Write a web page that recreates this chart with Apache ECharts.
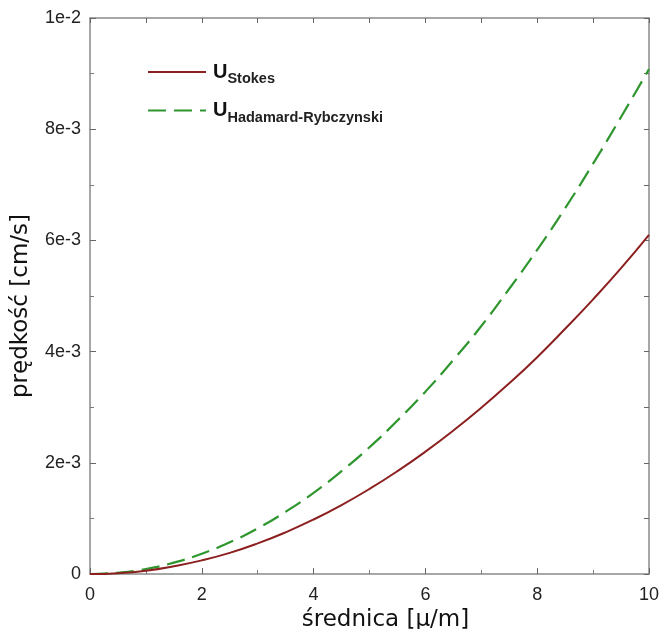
<!DOCTYPE html>
<html>
<head>
<meta charset="utf-8">
<script src="https://cdn.jsdelivr.net/npm/echarts@6/dist/echarts.min.js"></script>
<style>
    html, body { margin: 0; padding: 0; background: #fff; }
    #main { width: 661px; height: 629px; }
</style>
</head>
<body>
<div id="main"></div>
<script type="text/javascript">
    // średnica [µm]
    const diameters = [0, 0.5, 1, 1.5, 2, 2.5, 3, 3.5, 4, 4.5, 5, 5.5, 6, 6.5, 7, 7.5, 8, 8.5, 9, 9.5, 10];
    // prędkość [cm/s]
    const uStokes = [0, 0.000015, 0.00006, 0.00014, 0.000245, 0.00038, 0.00055, 0.00075, 0.00098, 0.00124,
        0.00153, 0.00185, 0.0022, 0.00258, 0.00299, 0.00343, 0.0039, 0.00441, 0.00494, 0.0055, 0.0061];
    const uHadamard = [0, 0.000023, 0.00009, 0.000205, 0.000365, 0.00057, 0.00082, 0.00112, 0.00146, 0.00185,
        0.00228, 0.00276, 0.00328, 0.00385, 0.00446, 0.00513, 0.00583, 0.00658, 0.00738, 0.00822, 0.00908];
    const yTickLabels = ['0', '2e-3', '4e-3', '6e-3', '8e-3', '1e-2'];
    const xTickLabels = ['0', '2', '4', '6', '8', '10'];

    const axisGray = '#8a8a8a';

    function pairs(ys) {
        let out = [];
        for (let i = 0; i < diameters.length; i++) {
            out.push([diameters[i], ys[i]]);
        }
        return out;
    }

    let myChart = echarts.init(document.getElementById('main'));

    let option = {
        animation: false,
        grid: { left: 90, right: 12, top: 18, bottom: 55, outerBoundsMode: 'none' },
        legend: {
            left: 142,
            top: 57,
            orient: 'vertical',
            itemWidth: 58,
            itemHeight: 14,
            itemGap: 14,
            itemStyle: { opacity: 0 },
            formatter: function (name) {
                return name === 'Stokes' ? '{u|U}{s|Stokes}' : '{u|U}{s|Hadamard-Rybczynski}';
            },
            textStyle: {
                rich: {
                    u: { fontFamily: 'Liberation Sans', fontWeight: 'bold', fontSize: 20, color: '#111', padding: [0, 0, 0, 2] },
                    s: { fontFamily: 'Liberation Sans', fontWeight: 'bold', fontSize: 14.5, color: '#222', padding: [14, 0, 0, 0] }
                }
            },
            data: ['Stokes', 'Hadamard-Rybczynski']
        },
        xAxis: [{
            type: 'value',
            min: 0,
            max: 10,
            interval: 2,
            name: 'średnica [µ/m]',
            nameLocation: 'middle',
            nameGap: 31,
            nameTextStyle: { fontFamily: 'DejaVu Sans', fontSize: 23, color: '#111', padding: [0, 0, 0, 32] },
            axisLine: { onZero: false, lineStyle: { color: axisGray, width: 1.5 } },
            axisTick: { inside: true, length: 6, lineStyle: { color: '#666' } },
            minorTick: { show: true, splitNumber: 2, length: 4, lineStyle: { color: '#777' } },
            axisLabel: {
                fontFamily: 'Liberation Sans', fontSize: 18, color: '#222', margin: 12,
                formatter: function (v) { return xTickLabels[Math.round(v / 2)]; }
            },
            splitLine: { show: false }
        }, {
            type: 'value',
            position: 'top',
            min: 0,
            max: 10,
            interval: 1,
            axisLine: { show: true, onZero: false, lineStyle: { color: axisGray, width: 1.5 } },
            axisTick: { inside: true, length: 5, lineStyle: { color: '#666' } },
            axisLabel: { show: false },
            splitLine: { show: false }
        }],
        yAxis: [{
            type: 'value',
            min: 0,
            max: 0.01,
            interval: 0.002,
            name: 'prędkość [cm/s]',
            nameLocation: 'middle',
            nameGap: 57,
            nameTextStyle: { fontFamily: 'DejaVu Sans', fontSize: 23, color: '#111', padding: [0, 20, 0, 0] },
            axisLine: { show: true, onZero: false, lineStyle: { color: axisGray, width: 1.5 } },
            axisTick: { show: true, inside: true, length: 6, lineStyle: { color: '#666' } },
            minorTick: { show: true, splitNumber: 2, length: 4, lineStyle: { color: '#777' } },
            axisLabel: {
                fontFamily: 'Liberation Sans', fontSize: 18, color: '#222', margin: 9,
                formatter: function (v) { return yTickLabels[Math.round(v / 0.002)]; }
            },
            splitLine: { show: false }
        }, {
            type: 'value',
            position: 'right',
            min: 0,
            max: 0.01,
            interval: 0.001,
            axisLine: { show: true, onZero: false, lineStyle: { color: axisGray, width: 1.5 } },
            axisTick: { show: true, inside: true, length: 5, lineStyle: { color: '#666' } },
            axisLabel: { show: false },
            splitLine: { show: false }
        }],
        series: [{
            name: 'Stokes',
            type: 'line',
            smooth: true,
            symbol: 'none',
            color: '#8c2020',
            lineStyle: { color: '#8c2020', width: 2 },
            data: pairs(uStokes),
            z: 3
        }, {
            name: 'Hadamard-Rybczynski',
            type: 'line',
            smooth: true,
            symbol: 'none',
            color: '#2f962f',
            lineStyle: { color: '#2f962f', width: 2.2, type: [18, 8] },
            data: pairs(uHadamard),
            z: 2
        }]
    };
    myChart.setOption(option);
</script>
</body>
</html>
